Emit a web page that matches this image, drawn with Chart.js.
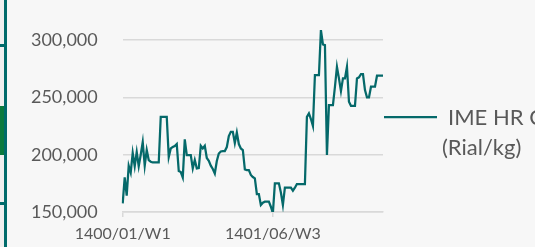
<!DOCTYPE html>
<html>
<head>
<meta charset="utf-8">
<script src="https://cdn.jsdelivr.net/npm/chart.js@4"></script>
<style>
  html, body { margin: 0; padding: 0; background: #F7F7F7; overflow: hidden; }
  #wrap { position: relative; width: 535px; height: 247px; }
  #strip { position: absolute; left: 0; top: 0; width: 4px; height: 247px; background: #EFEFEF; }
  #rule { position: absolute; left: 4px; top: 0; width: 3px; height: 247px; background: #006B6B; }
  .nub { position: absolute; left: 0; width: 4px; height: 3px; background: #006B6B; }
  #tab { position: absolute; left: 0; top: 106px; width: 4px; height: 49px; background: #0B7A3E; }
  canvas { position: absolute; left: 0; top: 0; }
</style>
</head>
<body>
<div id="wrap">
  <div id="strip"></div>
  <div id="rule"></div>
  <div class="nub" style="top:44px"></div>
  <div class="nub" style="top:202px"></div>
  <div id="tab"></div>
  <canvas id="chartIme" width="535" height="247"></canvas>
</div>
<script>
// ===== IME HR coil price, weekly (Rial/kg) =====

const tickIndex = [0, 75];
const tickText = ['1400/01/W1', '1401/06/W3'];
const yTicks = [150000, 200000, 250000, 300000];
const legendLines = ['IME HR Coil', '(Rial/kg)'];

const prices = [
  157600, 180300, 164200, 190400, 184300, 201500, 190000, 202400, 190000, 200000,
  211000, 190400, 204100, 195300, 193900, 193200, 193200, 193200, 193200, 233100,
  233100, 233100, 233100, 198000, 205500, 206700, 207600, 209300, 185800, 184900,
  180100, 213400, 199700, 199700, 199700, 188100, 195300, 188100, 188400, 207800,
  205500, 207800, 197100, 194700, 190400, 187500, 183600, 194500, 201000, 202800,
  203200, 203200, 206700, 216300, 220000, 220000, 210200, 219300, 209300, 205400,
  204100, 187100, 186600, 186600, 182300, 180500, 179400, 165700, 165700, 156100,
  158100, 159000, 159000, 159000, 154600, 148900, 175000, 175000, 175000, 167000,
  156100, 171200, 171200, 171200, 171200, 168600, 171200, 174400, 174400, 174400,
  174400, 174400, 233100, 236100, 231100, 225000, 269500, 269500, 269500, 308700,
  296200, 295600, 199700, 243300, 243300, 243300, 259300, 276700, 266600, 255500,
  266600, 266600, 276700, 246200, 242700, 242700, 242700, 266600, 267500, 270300,
  270300, 256400, 250000, 250000, 259300, 259300, 259300, 268900, 268900, 268900,
  268900
];

const yMin = 150000, yMax = 335000;

const C = {
  line: '#05696A',
  grid: '#D9D9D9',
  text: '#595959'
};

const categories = prices.map((_, i) => {
  const k = tickIndex.indexOf(i);
  return k >= 0 ? tickText[k] : '';
});

const sideLegend = {
  id: 'sideLegend',
  afterDraw(chart) {
    const { ctx, chartArea } = chart;
    const ds = chart.data.datasets[0];
    const x0 = chartArea.right + 1;
    const y0 = 117;
    ctx.save();
    ctx.strokeStyle = ds.borderColor;
    ctx.lineWidth = ds.borderWidth;
    ctx.beginPath();
    ctx.moveTo(x0, y0);
    ctx.lineTo(x0 + 53, y0);
    ctx.stroke();
    ctx.fillStyle = C.text;
    ctx.font = '22px Lato, sans-serif';
    ctx.textAlign = 'left';
    ctx.textBaseline = 'middle';
    ctx.fillText(legendLines[0], x0 + 64, y0 + 1);
    ctx.fillText(legendLines[1], x0 + 58, y0 + 31);
    ctx.restore();
  }
};

(function() {
  const el = document.getElementById('chartIme');
  new Chart(el, {
    type: 'line',
    data: {
      labels: categories,
      datasets: [{
        label: legendLines.join(' '),
        data: prices,
        borderColor: C.line,
        borderWidth: 2.25,
        pointRadius: 0,
        tension: 0,
        fill: false
      }]
    },
    options: {
      responsive: false,
      animation: false,
      devicePixelRatio: 1,
      layout: { autoPadding: false, padding: { left: 0, right: 152, top: 0, bottom: 0 } },
      plugins: { legend: { display: false }, tooltip: { enabled: false } },
      scales: {
        x: {
          offset: false,
          afterFit: s => { s.height = 35; s.paddingLeft = 0; s.paddingRight = 0; },
          afterBuildTicks: s => { s.ticks = s.ticks.filter(t => tickIndex.includes(t.value)); },
          grid: { display: true, drawOnChartArea: false, drawTicks: true, tickLength: 5, color: C.grid, lineWidth: 1.5 },
          border: { display: true, color: C.grid, width: 1.5 },
          ticks: {
            autoSkip: false, maxRotation: 0, padding: 7,
            color: C.text, font: { size: 16, family: 'Lato' }
          }
        },
        y: {
          min: yMin, max: yMax, bounds: 'data',
          afterFit: s => { s.width = 122.7; s.paddingTop = 0; s.paddingBottom = 0; },
          afterBuildTicks: s => { s.ticks = yTicks.map(v => ({ value: v })); },
          grid: { color: C.grid, lineWidth: 1.5, drawTicks: false },
          border: { display: false },
          ticks: {
            padding: 25,
            color: C.text, font: { size: 18, family: 'Lato' },
            callback: v => v.toLocaleString('en-US')
          }
        }
      }
    },
    plugins: [sideLegend]
  });
})();
</script>
</body>
</html>
